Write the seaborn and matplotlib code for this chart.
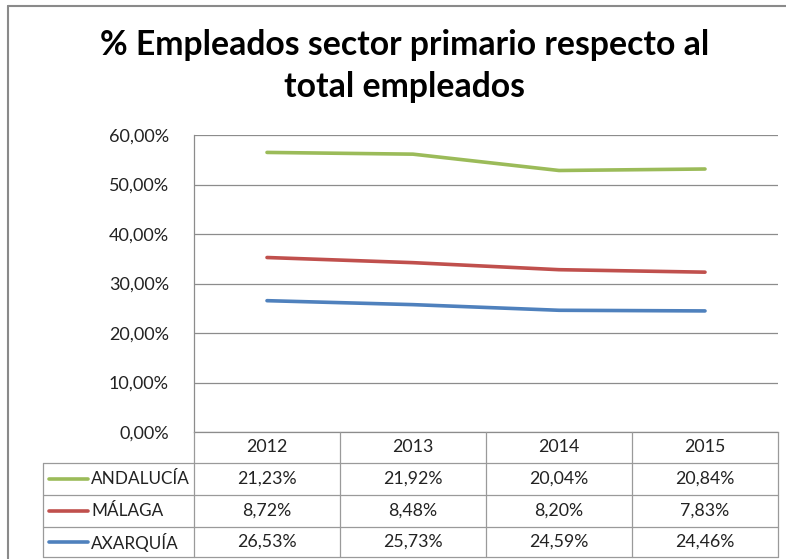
import numpy as np
import pandas as pd
import matplotlib
matplotlib.use("Agg")
import matplotlib.pyplot as plt
import seaborn as sns
from matplotlib.lines import Line2D

# ---- data -----------------------------------------------------------------
years = ["2012", "2013", "2014", "2015"]
series = ["ANDALUCÍA", "MÁLAGA", "AXARQUÍA"]
andalucia = [21.23, 21.92, 20.04, 20.84]
malaga = [8.72, 8.48, 8.20, 7.83]
axarquia = [26.53, 25.73, 24.59, 24.46]
y_ticks = [0, 10, 20, 30, 40, 50, 60]
y_tick_labels = ["0,00%", "10,00%", "20,00%", "30,00%", "40,00%", "50,00%", "60,00%"]
title_lines = ["% Empleados sector primario respecto al", "total empleados"]

palette = {"ANDALUCÍA": "#9BBB59", "MÁLAGA": "#C0504D", "AXARQUÍA": "#4F81BD"}
values = {"ANDALUCÍA": andalucia, "MÁLAGA": malaga, "AXARQUÍA": axarquia}

# stacked lines: AXARQUÍA at the bottom, MÁLAGA on top of it, ANDALUCÍA on top
stack_order = ["AXARQUÍA", "MÁLAGA", "ANDALUCÍA"]
running = np.zeros(len(years))
rows = []
for name in stack_order:
    running = running + np.array(values[name])
    for i, yr in enumerate(years):
        rows.append({"pos": i, "year": yr, "serie": name, "stacked": running[i]})
df = pd.DataFrame(rows)

# ---- figure ---------------------------------------------------------------
W, H = 786, 559
sns.set_theme(style="white")
plt.rcParams["font.family"] = ["Lato", "DejaVu Sans"]

fig = plt.figure(figsize=(W / 100, H / 100), dpi=100)
fig.patch.set_facecolor("white")


def fx(px):
    return px / W


def fy(py):
    return 1 - py / H


# plot area in pixel terms
left, right, top, bottom = 194, 778, 135, 432
ax = fig.add_axes([fx(left), fy(bottom), fx(right - left), (bottom - top) / H])

sns.lineplot(data=df, x="pos", y="stacked", hue="serie", palette=palette,
             linewidth=2.6, legend=False, ax=ax, solid_capstyle="round")

ax.set_xlim(-0.5, len(years) - 0.5)
ax.set_ylim(0, 60)
ax.set_yticks(y_ticks)
ax.set_yticklabels(y_tick_labels, fontsize=13, color="#222222")
ax.set_xticks([])
ax.set_xlabel("")
ax.set_ylabel("")
ax.tick_params(axis="y", length=0, pad=18)
ax.grid(axis="y", color="#8c8c8c", linewidth=0.9)
ax.set_axisbelow(True)
for s in ["top", "right"]:
    ax.spines[s].set_visible(False)
for s in ["left", "bottom"]:
    ax.spines[s].set_color("#8c8c8c")
    ax.spines[s].set_linewidth(0.9)

# ---- title ----------------------------------------------------------------
fig.text(fx(405), fy(55), title_lines[0], ha="center", va="baseline",
         fontsize=24.3, fontweight="bold", color="black")
fig.text(fx(405), fy(97), title_lines[1], ha="center", va="baseline",
         fontsize=24.3, fontweight="bold", color="black")

# ---- data table under the axis -------------------------------------------
grid_c = "#9a9a9a"
grid_w = 0.9
col_edges = [194, 340, 486, 632, 778]
row_edges = [432, 463, 495, 527, 557]
legend_left = 43


def hline(x0, x1, y, **kw):
    fig.add_artist(Line2D([fx(x0), fx(x1)], [fy(y), fy(y)], color=grid_c,
                          linewidth=grid_w, **kw))


def vline(x, y0, y1, **kw):
    fig.add_artist(Line2D([fx(x), fx(x)], [fy(y0), fy(y1)], color=grid_c,
                          linewidth=grid_w, **kw))


for ce in col_edges:
    vline(ce, row_edges[0], row_edges[-1])
vline(legend_left, row_edges[1], row_edges[-1])
for re_ in row_edges[1:]:
    hline(legend_left, col_edges[-1], re_)

cell_fs = 12.8
name_fs = 12.3
for j, yr in enumerate(years):
    cx = (col_edges[j] + col_edges[j + 1]) / 2
    fig.text(fx(cx), fy((row_edges[0] + row_edges[1]) / 2), yr,
             ha="center", va="center", fontsize=cell_fs, color="#222222")

for i, name in enumerate(series):
    cy = (row_edges[i + 1] + row_edges[i + 2]) / 2
    fig.add_artist(Line2D([fx(49), fx(88)], [fy(cy), fy(cy)],
                          color=palette[name], linewidth=2.6,
                          solid_capstyle="round"))
    fig.text(fx(91), fy(cy), name, ha="left", va="center",
             fontsize=name_fs, color="#222222")
    for j, v in enumerate(values[name]):
        cx = (col_edges[j] + col_edges[j + 1]) / 2
        label = f"{v:.2f}%".replace(".", ",")
        fig.text(fx(cx), fy(cy), label, ha="center", va="center",
                 fontsize=cell_fs, color="#222222")

# ---- chart frame ----------------------------------------------------------
frame_c = "#8a8a8a"
fig.add_artist(Line2D([fx(8), fx(8)], [fy(6), fy(H + 5)], color=frame_c, linewidth=1.5))
fig.add_artist(Line2D([fx(8), fx(W + 5)], [fy(6), fy(6)], color=frame_c, linewidth=1.5))

fig.savefig("out.png", dpi=100)
